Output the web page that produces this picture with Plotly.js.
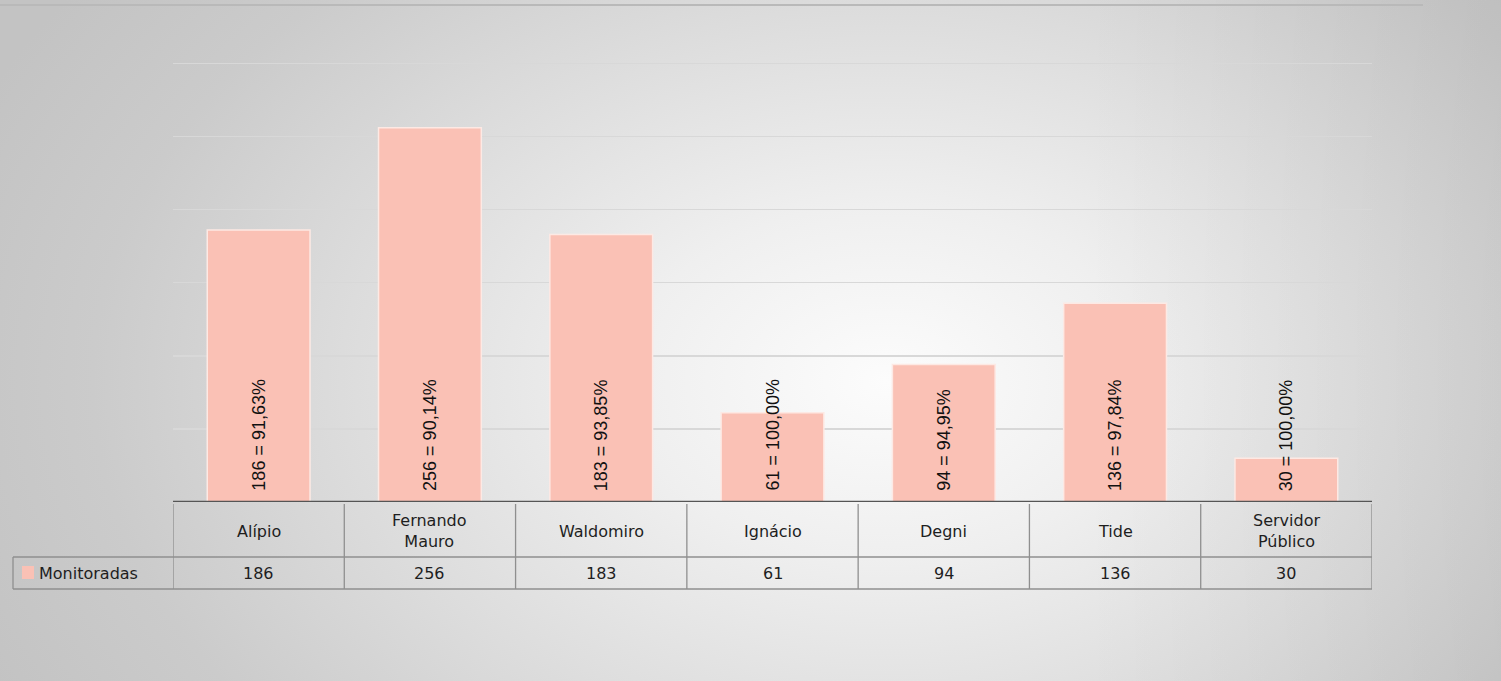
<!DOCTYPE html>
<html>
<head>
<meta charset="utf-8">
<script src="https://cdn.plot.ly/plotly-3.0.1.min.js"></script>
<style>
  html, body { margin: 0; padding: 0; }
  #chart {
    width: 1501px; height: 681px;
    background:
      linear-gradient(to right, rgba(0,0,0,0) 72%, rgba(0,0,0,0.05) 100%),
      radial-gradient(ellipse 66% 100% at 59% 56%, #fcfcfc 0%, #efefef 26%, #dcdcdc 55%, #cbcbcb 80%, #c3c3c3 100%);
  }
</style>
</head>
<body>
<div id="chart"></div>
<script>
// chart data
const categories = ['Alípio', 'Fernando<br>Mauro', 'Waldomiro', 'Ignácio', 'Degni', 'Tide', 'Servidor<br>Público'];
const monitoradas = [186, 256, 183, 61, 94, 136, 30];
const percentages = ['91,63%', '90,14%', '93,85%', '100,00%', '94,95%', '97,84%', '100,00%'];
const seriesName = 'Monitoradas';

const barColor = '#fac1b5';
const plotH = 440; // height of plot area in px, used for table rows
const plotW = 1199;

// convert a pixel offset below the baseline into paper units
function py(px) {
    return -px / plotH;
}

const labels = monitoradas.map((v, i) => v + ' = ' + percentages[i]);

const trace = {
    type: 'bar',
    x: categories.map((c, i) => i),
    y: monitoradas,
    name: seriesName,
    marker: { color: barColor, line: { color: '#fde9e4', width: 1.5 } },
    hoverinfo: 'none'
};

const shapes = [];
const annotations = [];
const n = categories.length;

// value labels, rotated, sitting on the base of each bar
labels.forEach((t, i) => {
    annotations.push({
        xref: 'x', yref: 'y', x: i, y: 0, text: t, showarrow: false,
        textangle: -90, yanchor: 'bottom', yshift: 9,
        font: { family: 'Liberation Sans, Arial, sans-serif', size: 18, color: '#111111' }
    });
});

// data table under the plot, built from the arrays
const rowHeadBot = 55, rowValBot = 87;
const tableLine = { color: '#8f8f8f', width: 1.3 };

shapes.push({ type: 'line', xref: 'x', yref: 'paper', x0: -0.5, x1: n - 0.5, y0: py(rowHeadBot), y1: py(rowHeadBot), line: tableLine });
shapes.push({ type: 'line', xref: 'x', yref: 'paper', x0: -0.5, x1: n - 0.5, y0: py(rowValBot), y1: py(rowValBot), line: tableLine });
for (let i = 0; i <= n; i++) {
    shapes.push({ type: 'line', xref: 'x', yref: 'paper', x0: i - 0.5, x1: i - 0.5, y0: py(2), y1: py(rowValBot), line: tableLine });
}
// legend cell to the left
const legLeft = -160 / plotW;
shapes.push({ type: 'line', xref: 'paper', yref: 'paper', x0: legLeft, x1: 0, y0: py(rowHeadBot), y1: py(rowHeadBot), line: tableLine });
shapes.push({ type: 'line', xref: 'paper', yref: 'paper', x0: legLeft, x1: 0, y0: py(rowValBot), y1: py(rowValBot), line: tableLine });
shapes.push({ type: 'line', xref: 'paper', yref: 'paper', x0: legLeft, x1: legLeft, y0: py(rowHeadBot), y1: py(rowValBot), line: tableLine });
shapes.push({ type: 'rect', xref: 'paper', yref: 'paper', x0: -151 / plotW, x1: -139 / plotW, y0: py(64), y1: py(77), fillcolor: barColor, line: { width: 0 } });
// baseline
shapes.push({ type: 'line', xref: 'x', yref: 'y', x0: -0.5, x1: n - 0.5, y0: 0, y1: 0, line: { color: '#555555', width: 2.5 } });
// thin line along the top of the slide
shapes.push({ type: 'line', xref: 'paper', yref: 'paper', x0: -173 / plotW, x1: 1250 / plotW, y0: 1 + 57 / plotH, y1: 1 + 57 / plotH, line: { color: '#b9b9b9', width: 2 } });

const tableFont = { family: 'DejaVu Sans, sans-serif', size: 16, color: '#1e1e1e' };
categories.forEach((c, i) => {
    annotations.push({ xref: 'x', yref: 'paper', x: i, y: py(29), text: c, showarrow: false, font: tableFont, yanchor: 'middle' });
    annotations.push({ xref: 'x', yref: 'paper', x: i, y: py(71), text: String(monitoradas[i]), showarrow: false, font: tableFont, yanchor: 'middle' });
});
annotations.push({ xref: 'paper', yref: 'paper', x: -136 / plotW, y: py(71), text: seriesName, showarrow: false, font: tableFont, xanchor: 'left', yanchor: 'middle' });

const layout = {
    width: 1501,
    height: 681,
    margin: { l: 173, r: 129, t: 62, b: 179 },
    paper_bgcolor: 'rgba(0,0,0,0)',
    plot_bgcolor: 'rgba(0,0,0,0)',
    showlegend: false,
    bargap: 0.4,
    xaxis: {
        range: [-0.5, n - 0.5],
        showticklabels: false,
        showgrid: false,
        zeroline: false,
        fixedrange: true
    },
    yaxis: {
        range: [0, 301],
        dtick: 50,
        showticklabels: false,
        gridcolor: '#d8d8d8',
        gridwidth: 1.5,
        zeroline: false,
        fixedrange: true
    },
    shapes: shapes,
    annotations: annotations
};

Plotly.newPlot('chart', [trace], layout, { displayModeBar: false, staticPlot: true });
</script>
</body>
</html>
